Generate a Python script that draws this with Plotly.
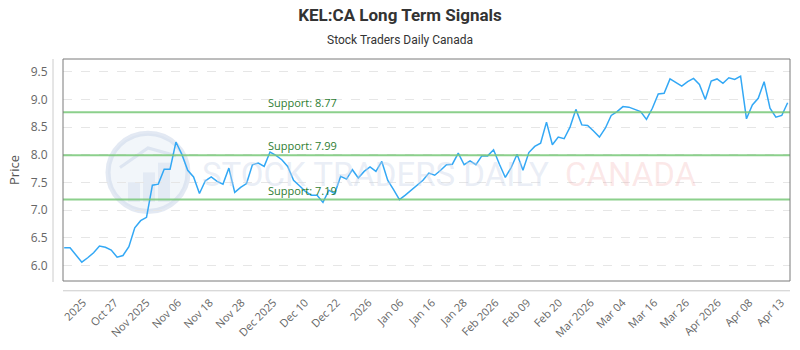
import numpy as np
import plotly.graph_objects as go

# ---------------- data ----------------
prices = [
    6.32, 6.32, 6.19, 6.06, 6.14, 6.23, 6.35, 6.33, 6.28, 6.15,
    6.18, 6.34, 6.68, 6.81, 6.87, 7.45, 7.47, 7.74, 7.74, 8.23,
    8.01, 7.72, 7.60, 7.30, 7.53, 7.60, 7.52, 7.47, 7.76, 7.32,
    7.41, 7.48, 7.82, 7.85, 7.79, 8.05, 7.99, 7.91, 7.79, 7.54,
    7.44, 7.34, 7.27, 7.27, 7.14, 7.36, 7.30, 7.61, 7.56, 7.73,
    7.58, 7.70, 7.78, 7.70, 7.88, 7.54, 7.37, 7.19, 7.27, 7.36,
    7.45, 7.54, 7.67, 7.63, 7.72, 7.82, 7.83, 8.03, 7.82, 7.89,
    7.82, 7.98, 7.98, 8.09, 7.83, 7.59, 7.77, 8.01, 7.72, 8.04,
    8.15, 8.21, 8.59, 8.18, 8.32, 8.29, 8.50, 8.82, 8.54, 8.53,
    8.43, 8.32, 8.48, 8.71, 8.78, 8.87, 8.86, 8.82, 8.78, 8.64,
    8.84, 9.10, 9.11, 9.37, 9.30, 9.24, 9.32, 9.38, 9.27, 9.00,
    9.33, 9.37, 9.29, 9.39, 9.36, 9.42, 8.65, 8.90, 9.02, 9.32,
    8.84, 8.68, 8.71, 8.94,
]
tick_labels = [
    "2025", "Oct 27", "Nov 2025", "Nov 06", "Nov 18", "Nov 28",
    "Dec 2025", "Dec 10", "Dec 22", "2026", "Jan 06", "Jan 16",
    "Jan 28", "Feb 2026", "Feb 09", "Feb 20", "Mar 2026", "Mar 04",
    "Mar 16", "Mar 26", "Apr 2026", "Apr 08", "Apr 13",
]
support_levels = [8.77, 7.99, 7.19]
y_ticks = [6.0, 6.5, 7.0, 7.5, 8.0, 8.5, 9.0, 9.5]

title_text = "KEL:CA Long Term Signals"
subtitle_text = "Stock Traders Daily Canada"

# ---------------- figure ----------------
idx = list(range(len(prices)))
n = len(prices)
PW, PH, L, T = 727, 227, 63, 59


def px(xp):
    return (xp - L) / PW


def py(yp):
    return (T + PH - yp) / PH


fig = go.Figure()

# watermark logo
fig.add_shape(type="circle", xref="paper", yref="paper",
              x0=px(108), x1=px(188), y0=py(215), y1=py(135),
              line=dict(color="rgba(200,212,232,0.5)", width=5),
              fillcolor="rgba(218,228,242,0.35)", layer="below")
for bx0, bx1, btop in [(128, 140, 185), (143, 155, 175), (158, 170, 165)]:
    fig.add_shape(type="rect", xref="paper", yref="paper",
                  x0=px(bx0), x1=px(bx1), y0=py(205), y1=py(btop),
                  line=dict(width=0), fillcolor="rgba(200,212,232,0.35)", layer="below")
fig.add_shape(type="path", xref="paper", yref="paper", layer="below",
              path=f"M {px(120)},{py(170)} L {px(148)},{py(150)} L {px(176)},{py(158)}",
              line=dict(color="rgba(200,212,232,0.5)", width=3))

cond = "Roboto, Inter, sans-serif"
fig.add_annotation(xref="paper", yref="paper", x=px(200), y=py(177),
                   text="STOCK TRADERS DAILY", showarrow=False, xanchor="left", yanchor="middle",
                   font=dict(family=cond, size=33, color="rgba(200,212,232,0.4)"))
fig.add_annotation(xref="paper", yref="paper", x=px(563), y=py(177),
                   text="CANADA", showarrow=False, xanchor="left", yanchor="middle",
                   font=dict(family=cond, size=33, color="rgba(240,150,150,0.22)"))

fig.add_trace(go.Scatter(
    x=idx, y=prices, mode="lines",
    line=dict(color="#33a8f5", width=1.5),
    hoverinfo="y", showlegend=False,
))

# support lines
for lvl in support_levels:
    fig.add_trace(go.Scatter(
        x=[-1, n + 1], y=[lvl, lvl], mode="lines",
        line=dict(color="rgba(120,200,120,0.85)", width=2),
        hoverinfo="skip", showlegend=False,
    ))
    fig.add_annotation(
        x=34.3, y=lvl, xref="x", yref="y", text=f"Support: {lvl:.2f}",
        showarrow=False, xanchor="left", yanchor="bottom", yshift=0,
        font=dict(family="Open Sans, sans-serif", size=11, color="#2e7d32"),
    )

# frame and offset axis lines
fig.add_shape(type="rect", xref="paper", yref="paper", x0=0, x1=1, y0=0, y1=1,
              line=dict(color="#7a7a7a", width=1), layer="above")
fig.add_shape(type="line", xref="paper", yref="paper",
              x0=px(53), x1=px(53), y0=py(287), y1=1,
              line=dict(color="#cccccc", width=1))
fig.add_shape(type="line", xref="paper", yref="paper",
              x0=0, x1=1, y0=py(296), y1=py(296),
              line=dict(color="#cccccc", width=1))

tickvals = list(np.linspace(3.2, 121.9, len(tick_labels)))

fig.update_layout(
    width=800, height=350,
    margin=dict(l=L, r=800 - L - PW, t=T, b=350 - T - PH),
    paper_bgcolor="white", plot_bgcolor="white",
    title=dict(
        text=f"<b>{title_text}</b>", x=0.5, xanchor="center", y=1 - 15 / 350, yanchor="middle",
        font=dict(family=cond, size=17, color="#333333"),
    ),
    xaxis=dict(
        range=[-0.2, 123.4], showgrid=False, zeroline=False, showline=False,
        tickmode="array", tickvals=tickvals, ticktext=tick_labels,
        tickangle=-45, ticks="outside", ticklen=10, tickcolor="rgba(0,0,0,0)",
        tickfont=dict(family="Open Sans, sans-serif", size=11, color="#666666"),
    ),
    yaxis=dict(
        range=[5.72, 9.73], tickvals=y_ticks,
        ticktext=[f"{v:.1f}" for v in y_ticks],
        showgrid=True, gridcolor="#e6e6e6", griddash="dash", gridwidth=1,
        zeroline=False, showline=False,
        ticks="outside", ticklen=12, tickcolor="rgba(0,0,0,0)",
        tickfont=dict(family="Open Sans, sans-serif", size=12, color="#666666"),
        title=dict(text="Price", font=dict(family="Open Sans, sans-serif", size=13, color="#555555"),
                   standoff=8),
    ),
)
fig.add_annotation(xref="paper", yref="paper", x=px(400), y=py(40),
                   text=subtitle_text, showarrow=False, xanchor="center", yanchor="middle",
                   font=dict(family=cond, size=12, color="#333333"))

fig.write_html("out.html")
